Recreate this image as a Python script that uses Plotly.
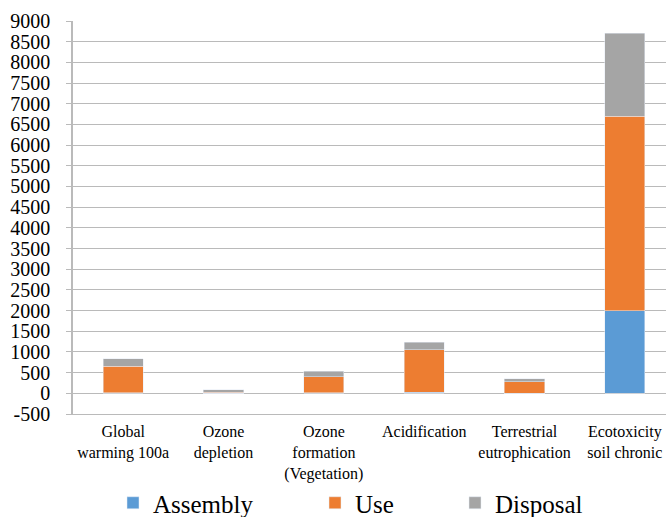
import plotly.graph_objects as go

categories = ["Global<br>warming 100a", "Ozone<br>depletion", "Ozone<br>formation<br>(Vegetation)",
              "Acidification", "Terrestrial<br>eutrophication", "Ecotoxicity<br>soil chronic"]
assembly = [10, 2, 8, 20, 5, 2000]
use = [650, 25, 390, 1030, 270, 4700]
disposal = [180, 60, 135, 190, 80, 2000]
y_ticks = list(range(-500, 9001, 500))
y_ticktext = [str(v) for v in y_ticks]

FONT = "Liberation Serif"
GRID = "#bababa"
x_idx = list(range(len(categories)))

fig = go.Figure()
fig.add_bar(x=x_idx, y=assembly, name="Assembly", marker_color="#5B9BD5", legend="legend")
fig.add_bar(x=x_idx, y=use, name="Use", marker_color="#ED7D31", legend="legend2")
fig.add_bar(x=x_idx, y=disposal, name="Disposal", marker_color="#A5A5A5", legend="legend3")

leg_common = dict(orientation="h", xanchor="left", y=-0.2265, yanchor="middle",
                  font=dict(size=25, family=FONT), itemwidth=30,
                  bgcolor="rgba(0,0,0,0)")

fig.update_layout(
    width=666, height=517,
    margin=dict(l=73, r=0, t=21, b=103, autoexpand=False),
    barmode="stack", bargap=0.6,
    plot_bgcolor="white", paper_bgcolor="white",
    font=dict(family=FONT, color="black"),
    showlegend=True,
    legend=dict(x=(113 - 73) / 593, **leg_common),
    legend2=dict(x=(315 - 73) / 593, **leg_common),
    legend3=dict(x=(455 - 73) / 593, **leg_common),
    xaxis=dict(range=[-0.5, 5.41], tickvals=x_idx, ticktext=categories, showgrid=False,
               zeroline=False, showline=True, linecolor=GRID, linewidth=1.3, ticks="",
               automargin=False, ticklabelstandoff=3, tickfont=dict(size=16, family=FONT)),
    xaxis2=dict(overlaying="x", anchor="free", position=500 / 9500, range=[-0.5, 5.41],
                tickvals=[0.5, 1.5, 2.5, 3.5, 4.5], ticks="outside", ticklen=4,
                tickcolor=GRID, tickwidth=1.3, showticklabels=False, showgrid=False,
                zeroline=False, showline=False, automargin=False),
    yaxis=dict(range=[-500, 9000], tickvals=y_ticks, ticktext=y_ticktext, showgrid=True,
               gridcolor=GRID, gridwidth=1.2, zeroline=False, showline=True,
               linecolor=GRID, linewidth=1.6, ticks="outside", ticklen=5, tickcolor=GRID,
               tickwidth=1.2, automargin=False, ticklabelstandoff=12,
               tickfont=dict(size=20, family=FONT)),
)

fig.write_html("out.html", config={"displayModeBar": False},
               post_script="document.body.style.margin='0';")
